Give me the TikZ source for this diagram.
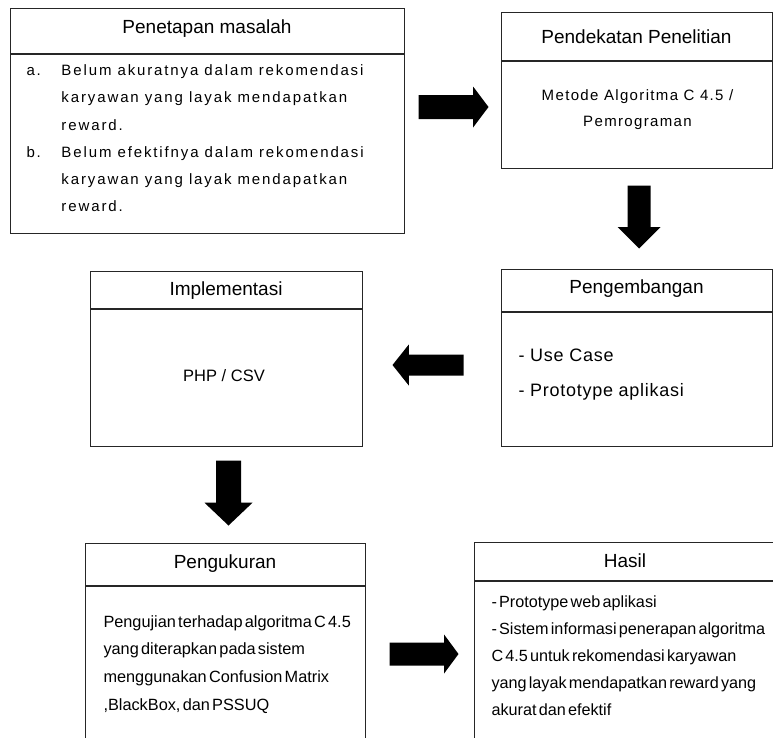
\documentclass[tikz,border=0pt]{standalone}
\usepackage{fontspec}
\setmainfont{Liberation Sans}
\newfontfamily\hurufRapat{Liberation Sans}[WordSpace=0.5]
\usepackage{tikz}
\usetikzlibrary{positioning, shapes.arrows}

\newcommand{\ukuran}[2]{\fontsize{#1}{#2}\selectfont}

\begin{document}
\begin{tikzpicture}[x=1pt, y=-1pt, line width=1pt,
  judul/.style={draw=black!85, inner sep=0pt, anchor=north, font=\ukuran{19}{23}},
  isi/.style={draw=black!85, inner sep=0pt},
  teks/.style={inner sep=0pt, anchor=base west},
  panah/.style={single arrow, fill=black, draw=none, inner xsep=0pt, anchor=tail}]
  \useasboundingbox (0,0) rectangle (773,737);
  \clip (0,0) rectangle (773,737);

  % baris atas
  \node[judul, minimum width=394pt, text height=25.3pt, text depth=19.7pt] (masalah) at (207,8) {Penetapan masalah};
  \node[isi, below=0pt of masalah, minimum width=394pt, minimum height=179pt] (masalahIsi) {};
  \node[teks, font={\ukuran{15}{27.2}\addfontfeatures{LetterSpace=12.5}}] (masalahTeks) at (26,75.7) {\begin{tabular}[t]{@{}p{35pt}@{}l@{}}
    a. & Belum akuratnya dalam rekomendasi\\
       & karyawan yang layak mendapatkan\\
       & reward.\\
    b. & Belum efektifnya dalam rekomendasi\\
       & karyawan yang layak mendapatkan\\
       & reward.
  \end{tabular}};

  \node[judul, minimum width=271pt, text height=31pt, text depth=17pt] (pendekatan) at (636.5,12) {Pendekatan Penelitian};
  \node[isi, below=0pt of pendekatan, minimum width=271pt, minimum height=107pt] (pendekatanIsi) {};
  \node[inner sep=0pt, anchor=base, font={\ukuran{15}{26}\addfontfeatures{LetterSpace=9}}] (pendekatanTeks) at (637.5,100) {\begin{tabular}[t]{@{}c@{}}
    Metode Algoritma C 4.5 /\\
    Pemrograman
  \end{tabular}};

  % baris tengah
  \node[judul, minimum width=272pt, text height=24pt, text depth=13pt] (implementasi) at (226,271) {Implementasi};
  \node[isi, below=0pt of implementasi, minimum width=272pt, minimum height=137pt] (implementasiIsi) {};
  \node[inner sep=0pt, anchor=base, font=\ukuran{16.5}{20}] (implementasiTeks) at (224,381) {PHP / CSV};

  \node[judul, minimum width=271pt, text height=24pt, text depth=18pt] (pengembangan) at (636.5,269) {Pengembangan};
  \node[isi, below=0pt of pengembangan, minimum width=271pt, minimum height=134pt] (pengembanganIsi) {};
  \node[teks, font={\ukuran{18}{35}\addfontfeatures{LetterSpace=4}}] (pengembanganTeks) at (518,361) {\begin{tabular}[t]{@{}l@{}}
    - Use Case\\
    - Prototype aplikasi
  \end{tabular}};

  % baris bawah
  \node[judul, minimum width=280pt, text height=25pt, text depth=17pt] (pengukuran) at (225,543) {Pengukuran};
  \node[isi, below=0pt of pengukuran, minimum width=280pt, minimum height=175pt] (pengukuranIsi) {};
  \node[teks, font={\hurufRapat\ukuran{16.3}{27.7}}] (pengukuranTeks) at (103,627) {\begin{tabular}[t]{@{}l@{}}
    Pengujian terhadap algoritma C 4.5\\
    yang diterapkan pada sistem\\
    menggunakan Confusion Matrix\\
    ,BlackBox, dan PSSUQ
  \end{tabular}};

  \node[judul, minimum width=302pt, text height=25pt, text depth=13pt] (hasil) at (625,542) {Hasil};
  \node[isi, below=0pt of hasil, minimum width=302pt, minimum height=180pt] (hasilIsi) {};
  \node[teks, font={\hurufRapat\ukuran{16.2}{27.2}}] (hasilTeks) at (491,607) {\begin{tabular}[t]{@{}l@{}}
    - Prototype web aplikasi\\
    - Sistem informasi penerapan algoritma\\
    C 4.5 untuk rekomendasi karyawan\\
    yang layak mendapatkan reward yang\\
    akurat dan efektif
  \end{tabular}};

  % panah blok
  \node[panah, minimum height=70pt, minimum width=40pt, inner ysep=11.5pt, single arrow head extend=8.5pt, single arrow tip angle=106] (panahA) at (418,107) {};
  \node[panah, rotate=-90, minimum height=63pt, minimum width=42pt, inner ysep=11pt, single arrow head extend=10pt, single arrow tip angle=90] (panahB) at (639,185) {};
  \node[panah, rotate=180, minimum height=71pt, minimum width=40pt, inner ysep=10pt, single arrow head extend=10pt, single arrow tip angle=103] (panahC) at (464,365) {};
  \node[panah, rotate=-90, minimum height=65pt, minimum width=47pt, inner ysep=12pt, single arrow head extend=11.5pt, single arrow tip angle=93] (panahD) at (228.5,460) {};
  \node[panah, minimum height=69pt, minimum width=38pt, inner ysep=11pt, single arrow head extend=8pt, single arrow tip angle=107] (panahE) at (389,654) {};
\end{tikzpicture}
\end{document}
